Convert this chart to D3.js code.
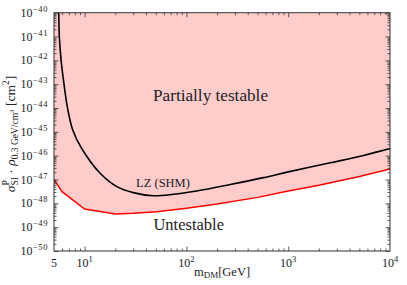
<!DOCTYPE html>
<html><head><meta charset="utf-8">
<script src="https://cdn.jsdelivr.net/npm/d3@7"></script>
<style>
body{margin:0;background:#fff}
svg{display:block}
</style>
</head><body>
<svg id="c" width="407" height="285" font-family="'Liberation Serif', 'DejaVu Serif', serif"></svg>
<script>
// ---- data (log10 of sigma*rho in cm^2) ----
const lzMass  = [5.5, 5.56, 5.64, 5.87, 6.27, 6.79, 7.64, 9.36, 14.2, 20.7, 30, 47, 74.5, 126, 269, 571, 1000, 2590, 5500, 10000];
const lzLogS  = [-39.5, -40, -41, -42, -43, -44, -44.92, -45.7, -46.74, -47.30, -47.55, -47.68, -47.62, -47.48, -47.21, -46.92, -46.68, -46.30, -45.99, -45.70];
const floorMass = [5, 6, 10, 20, 30, 51, 100, 200, 500, 1000, 2000, 5000, 10000];
const floorLogS = [-47, -47.51, -48.24, -48.45, -48.42, -48.35, -48.21, -48.03, -47.75, -47.48, -47.24, -46.87, -46.56];
const xMajor = [5, 10, 100, 1000, 10000];
const xMajorLabels = [["5", ""], ["10", "1"], ["10", "2"], ["10", "3"], ["10", "4"]];
const yMajorExp = [-40, -41, -42, -43, -44, -45, -46, -47, -48, -49, -50];
const labelTexts = {partial: "Partially testable", untest: "Untestable", lz: "LZ (SHM)"};

const FONT = "'Liberation Serif', 'DejaVu Serif', serif";
const svg = d3.select("#c");
const L = 54, R = 390, T = 12.7, B = 251;
const x = d3.scaleLog().domain([5, 1e4]).range([L, R]);
const y = d3.scaleLog().domain([1e-50, 1e-40]).range([B, T]);

svg.append("defs").append("clipPath").attr("id", "clip")
  .append("rect").attr("x", L).attr("y", T).attr("width", R - L).attr("height", B - T);

const floor = floorMass.map((m, i) => ({m, s: Math.pow(10, floorLogS[i])}));
const lz = lzMass.map((m, i) => ({m, s: Math.pow(10, lzLogS[i])}));

const g = svg.append("g").attr("clip-path", "url(#clip)");
g.append("path").datum(floor)
  .attr("d", d3.area().x(d => x(d.m)).y0(y(1e-40)).y1(d => y(d.s)))
  .attr("fill", "#ffcccc");
g.append("path").datum(floor)
  .attr("d", d3.line().x(d => x(d.m)).y(d => y(d.s)))
  .attr("fill", "none").attr("stroke", "#ff0000").attr("stroke-width", 1.5);
g.append("path").datum(lz)
  .attr("d", d3.line().x(d => x(d.m)).y(d => y(d.s)).curve(d3.curveCatmullRom.alpha(0.5)))
  .attr("fill", "none").attr("stroke", "#000").attr("stroke-width", 1.6);

// minor ticks
const xMinor = [];
[1, 10, 100, 1000].forEach(dec => { for (let k = 2; k <= 9; k++) { const v = k * dec; if (v > 5 && v < 1e4 && v !== 10) xMinor.push(v); } });
const yMinor = [];
for (let e = -50; e < -40; e++) for (let k = 2; k <= 9; k++) yMinor.push(k * Math.pow(10, e));
const yMajor = yMajorExp.map(e => Math.pow(10, e));

function tickAxis(axisFn, scale, vals, size, tx, ty) {
  const a = svg.append("g").attr("transform", `translate(${tx},${ty})`)
    .call(axisFn(scale).tickValues(vals).tickSizeInner(-size).tickSizeOuter(0).tickFormat(""));
  a.select(".domain").remove();
  a.selectAll("line").attr("stroke", "#333").attr("stroke-width", 0.8);
  return a;
}
tickAxis(d3.axisBottom, x, xMajor.slice(1, -1), 4.5, 0, B);
tickAxis(d3.axisBottom, x, xMinor, 2.5, 0, B);
tickAxis(d3.axisTop, x, xMajor.slice(1, -1), 4.5, 0, T);
tickAxis(d3.axisTop, x, xMinor, 2.5, 0, T);
tickAxis(d3.axisLeft, y, yMajor, 4.5, L, 0);
tickAxis(d3.axisLeft, y, yMinor, 2.5, L, 0);
tickAxis(d3.axisRight, y, yMajor, 4.5, R, 0);
tickAxis(d3.axisRight, y, yMinor, 2.5, R, 0);

svg.append("rect").attr("x", L).attr("y", T).attr("width", R - L).attr("height", B - T)
  .attr("fill", "none").attr("stroke", "#333").attr("stroke-width", 1);

function txt(sel) { return sel.append("text").attr("font-family", FONT).attr("fill", "#222"); }

// tick labels
xMajor.forEach((v, i) => {
  const t = txt(svg).attr("x", x(v)).attr("y", 266.5).attr("text-anchor", "middle").attr("font-size", 12);
  t.append("tspan").text(xMajorLabels[i][0]);
  if (xMajorLabels[i][1]) t.append("tspan").attr("dy", -5).attr("font-size", 8.5).text(xMajorLabels[i][1]);
});
yMajorExp.forEach((e, i) => {
  const t = txt(svg).attr("x", 48).attr("y", y(yMajor[i]) + 4).attr("text-anchor", "end").attr("font-size", 12);
  t.append("tspan").text("10");
  t.append("tspan").attr("dy", -5).attr("dx", 0.5).attr("font-size", 8.5).attr("letter-spacing", 0.6).text("\u2212" + (-e));
});

// x-axis label
const xl = txt(svg).attr("x", 222).attr("y", 275.5).attr("text-anchor", "middle").attr("font-size", 12.5);
xl.append("tspan").text("m");
xl.append("tspan").attr("dy", 2.5).attr("font-size", 9).text("DM");
xl.append("tspan").attr("dy", -2.5).text("[GeV]");

// y-axis label built from pieces in a rotated group
const yg = svg.append("g").attr("transform", "translate(14.5,134) rotate(-90)");
const pieces = [
  {t: "\u03c3", fs: 13.5, dy: 0, it: true},
  {stack: [{t: "P", fs: 9.5, dy: -5.5}, {t: "SI", fs: 9.5, dy: 3}]},
  {t: " \u00b7 ", fs: 13.5, dy: 0},
  {t: "\u03c1", fs: 13.5, dy: 0, it: true},
  {t: "0.3 GeV/cm", fs: 9.5, dy: 3},
  {t: "3", fs: 7, dy: -0.5},
  {t: " [cm", fs: 13.5, dy: 0},
  {t: "2", fs: 9.5, dy: -5.5},
  {t: "]", fs: 13.5, dy: 0}
];
let cx = 0; const els = [];
pieces.forEach(p => {
  const arr = p.stack || [p];
  let w = 0;
  arr.forEach(q => {
    const el = txt(yg).attr("x", cx).attr("y", q.dy).attr("font-size", q.fs)
      .attr("font-style", q.it ? "italic" : null).style("white-space", "pre").text(q.t);
    w = Math.max(w, el.node().getComputedTextLength());
    els.push(el);
  });
  cx += w;
});
els.forEach(el => el.attr("x", +el.attr("x") - cx / 2));

// region labels
txt(svg).attr("x", 210.5).attr("y", 100.7).attr("text-anchor", "middle").attr("font-size", 17.2).text(labelTexts.partial);
txt(svg).attr("x", 188.7).attr("y", 230).attr("text-anchor", "middle").attr("font-size", 16.5).text(labelTexts.untest);
txt(svg).attr("x", 163).attr("y", 187.3).attr("text-anchor", "middle").attr("font-size", 12.5).text(labelTexts.lz);
</script>
</body></html>
